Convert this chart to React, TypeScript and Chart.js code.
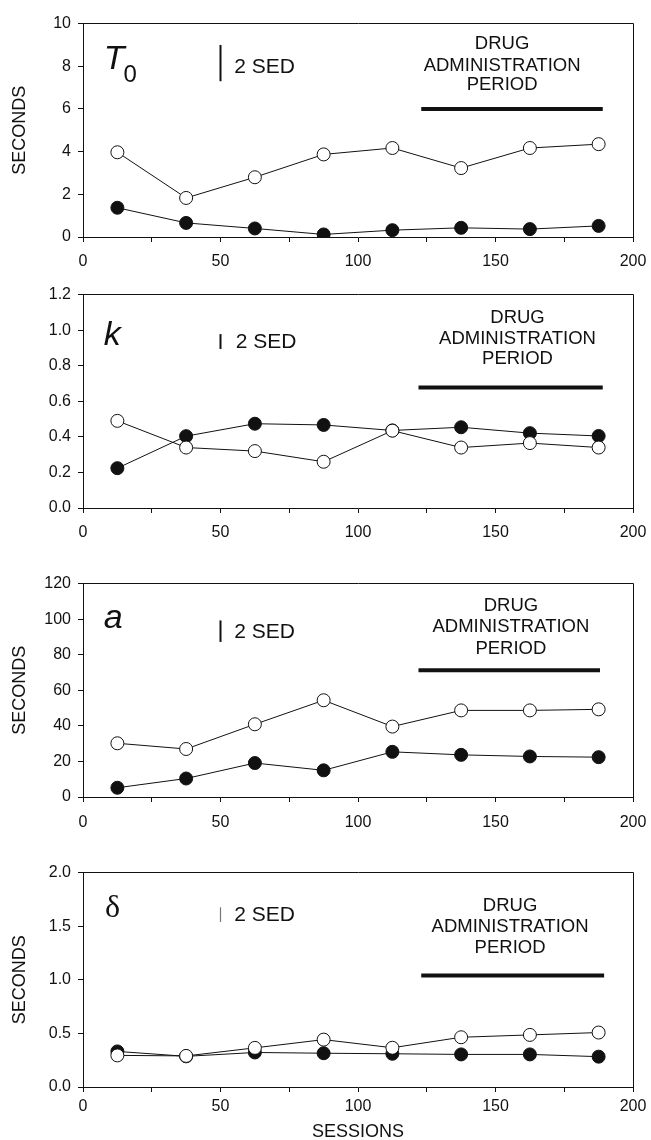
import React, { useEffect, useRef } from "react";
import { Chart, registerables } from "chart.js";

Chart.register(...registerables);

// ---- data ----
const sessions = [12.5, 37.5, 62.5, 87.5, 112.5, 137.5, 162.5, 187.5];

const t0Open = [3.97, 1.83, 2.8, 3.87, 4.17, 3.23, 4.17, 4.35];
const t0Filled = [1.37, 0.66, 0.4, 0.12, 0.32, 0.43, 0.37, 0.52];

const kOpen = [0.49, 0.34, 0.32, 0.26, 0.435, 0.34, 0.365, 0.34];
const kFilled = [0.224, 0.404, 0.474, 0.467, 0.436, 0.454, 0.421, 0.405];

const aOpen = [30.2, 27.0, 40.9, 54.4, 39.6, 48.7, 48.7, 49.3];
const aFilled = [5.2, 10.4, 19.1, 15.0, 25.4, 23.7, 22.8, 22.4];

const dOpen = [0.295, 0.29, 0.365, 0.442, 0.366, 0.464, 0.486, 0.508];
const dFilled = [0.332, 0.286, 0.322, 0.315, 0.31, 0.304, 0.304, 0.283];

const openSeries = [t0Open, kOpen, aOpen, dOpen];
const filledSeries = [t0Filled, kFilled, aFilled, dFilled];

// axes
const xTicksMin = 0;
const xTicksMax = 200;
const xMinorStep = 25;
const xLabelStep = 50;
const yMaxes = [10, 1.2, 120, 2.0];
const ySteps = [2, 0.2, 20, 0.5];
const yDecimals = [0, 1, 0, 1];
const yTitles = ["SECONDS", "", "SECONDS", "SECONDS"];
const xTitles = ["", "", "", "SESSIONS"];

// annotations (data units)
const panelLabels = ["T", "k", "a", "\u03b4"];
const panelSub = ["0", "", "", ""];
const panelLabelX = [7.5, 7.5, 7.5, 8];
const panelLabelBaseY = [7.88, 0.915, 95, 1.585];
const panelSubBaseY = [7.27, 0, 0, 0];

const sedX = 50;
const sedRanges = [
  [7.3, 9.0],
  [0.894, 0.978],
  [87.2, 99.3],
  [1.539, 1.677],
];
const sedLabel = "2 SED";
const sedLabelX = [55, 55.5, 55, 55];
const sedLabelY = [7.96, 0.935, 92.8, 1.6];

const drugLines = ["DRUG", "ADMINISTRATION", "PERIOD"];
const drugTextX = [152.4, 158, 155.6, 155.3];
const drugTextY = [
  [9.04, 8.04, 7.12],
  [1.071, 0.95, 0.836],
  [107.6, 95.6, 83.5],
  [1.693, 1.493, 1.3],
];
const drugBarY = [6.0, 0.678, 71.3, 1.04];
const drugBarX = [
  [123, 189],
  [122, 189],
  [122, 188],
  [123, 189.5],
];

// ---- layout ----
const W = 651;
const PAD_TOP = 14;
const PLOT_LEFT = 83;
const PLOT_RIGHT_PAD = 18;
const plotTops = [21, 292, 581, 870];
const plotHeights = [216, 216, 216, 217];
const xAxisHeights = [40, 40, 40, 60];
const xTickPads = [10, 10, 11, 5];

const SANS = "'Liberation Sans', Arial, Helvetica, sans-serif";
const SERIF = "'Liberation Serif', 'Times New Roman', serif";
const INK = "#111";

function align(p: number) {
  return Math.round(p - 0.5) + 0.5;
}

function makePlugin(i: number) {
  return {
    id: "annot" + i,
    afterDraw(chart: any) {
      const ctx = chart.ctx as CanvasRenderingContext2D;
      const { left, right, top, bottom } = chart.chartArea;
      const xs = chart.scales.x;
      const ys = chart.scales.y;
      ctx.save();
      // frame (top & right)
      ctx.strokeStyle = INK;
      ctx.lineWidth = 1;
      ctx.beginPath();
      ctx.moveTo(align(left), align(top));
      ctx.lineTo(align(right), align(top));
      ctx.lineTo(align(right), align(bottom));
      ctx.stroke();

      // panel label
      ctx.fillStyle = INK;
      ctx.textBaseline = "alphabetic";
      ctx.textAlign = "left";
      const lx = xs.getPixelForValue(panelLabelX[i]);
      const ly = ys.getPixelForValue(panelLabelBaseY[i]);
      if (i === 3) {
        ctx.font = `32px ${SERIF}`;
      } else {
        ctx.font = `italic 34px ${SANS}`;
      }
      ctx.fillText(panelLabels[i], lx, ly);
      if (panelSub[i]) {
        const w = ctx.measureText(panelLabels[i]).width;
        ctx.font = `24px ${SANS}`;
        ctx.fillText(panelSub[i], lx + w - 1, ys.getPixelForValue(panelSubBaseY[i]));
      }

      // SED bar
      const sx = xs.getPixelForValue(sedX);
      ctx.beginPath();
      ctx.lineWidth = i === 3 ? 1.2 : 2;
      ctx.strokeStyle = i === 3 ? "#777" : INK;
      ctx.moveTo(sx, ys.getPixelForValue(sedRanges[i][0]));
      ctx.lineTo(sx, ys.getPixelForValue(sedRanges[i][1]));
      ctx.stroke();
      ctx.font = `21px ${SANS}`;
      ctx.textBaseline = "middle";
      ctx.fillText(sedLabel, xs.getPixelForValue(sedLabelX[i]), ys.getPixelForValue(sedLabelY[i]));

      // drug text
      ctx.font = `18.5px ${SANS}`;
      ctx.textAlign = "center";
      const dx = xs.getPixelForValue(drugTextX[i]);
      drugLines.forEach((t, j) => {
        ctx.fillText(t, dx, ys.getPixelForValue(drugTextY[i][j]));
      });

      // drug bar
      ctx.beginPath();
      ctx.strokeStyle = INK;
      ctx.lineWidth = 4;
      ctx.lineCap = "butt";
      const by = ys.getPixelForValue(drugBarY[i]);
      ctx.moveTo(xs.getPixelForValue(drugBarX[i][0]), by);
      ctx.lineTo(xs.getPixelForValue(drugBarX[i][1]), by);
      ctx.stroke();
      ctx.restore();
    },
  };
}

function makeConfig(i: number): any {
  const pts = (vals: number[]) => sessions.map((s, j) => ({ x: s, y: vals[j] }));
  const xH = xAxisHeights[i];
  const common = {
    borderColor: INK,
    borderWidth: 1,
    pointRadius: 6.5,
    pointHoverRadius: 6.5,
    pointBorderWidth: 1,
    pointBorderColor: INK,
    fill: false,
    tension: 0,
  };
  return {
    type: "line",
    data: {
      datasets: [
        { ...common, data: pts(openSeries[i]), pointBackgroundColor: "#fff" },
        { ...common, data: pts(filledSeries[i]), pointBackgroundColor: INK },
      ],
    },
    options: {
      responsive: false,
      maintainAspectRatio: false,
      animation: false,
      events: [],
      layout: { padding: { top: PAD_TOP, right: 0, left: 0, bottom: 0 } },
      plugins: { legend: { display: false }, tooltip: { enabled: false } },
      scales: {
        x: {
          type: "linear",
          min: xTicksMin,
          max: xTicksMax,
          afterFit: (s: any) => {
            s.height = xH;
            s.paddingRight = PLOT_RIGHT_PAD;
            s.paddingLeft = 0;
          },
          border: { display: true, color: INK, width: 1 },
          grid: { display: true, drawOnChartArea: false, drawTicks: true, tickLength: 5, color: INK },
          ticks: {
            stepSize: xMinorStep,
            autoSkip: false,
            maxRotation: 0,
            padding: xTickPads[i],
            color: INK,
            font: { family: SANS, size: 16 },
            callback: (v: number) => (v % xLabelStep === 0 ? String(v) : ""),
          },
          title: {
            display: !!xTitles[i],
            text: xTitles[i],
            color: INK,
            font: { family: SANS, size: 18 },
            padding: { top: 0, bottom: 4 },
          },
        },
        y: {
          type: "linear",
          min: 0,
          max: yMaxes[i],
          afterFit: (s: any) => {
            s.width = PLOT_LEFT;
          },
          border: { display: true, color: INK, width: 1 },
          grid: { display: true, drawOnChartArea: false, drawTicks: true, tickLength: 5, color: INK },
          ticks: {
            stepSize: ySteps[i],
            padding: 7,
            color: INK,
            font: { family: SANS, size: 16 },
            callback: (v: number) => Number(v).toFixed(yDecimals[i]),
          },
          title: {
            display: !!yTitles[i],
            text: yTitles[i],
            color: INK,
            font: { family: SANS, size: 18 },
            padding: { top: 9, bottom: 0 },
          },
        },
      },
    },
    plugins: [makePlugin(i)],
  };
}

function Panel({ i }: { i: number }) {
  const ref = useRef<HTMLCanvasElement>(null);
  const h = PAD_TOP + plotHeights[i] + xAxisHeights[i];
  useEffect(() => {
    const chart = new Chart(ref.current as HTMLCanvasElement, makeConfig(i));
    return () => chart.destroy();
  }, [i]);
  return (
    <canvas
      ref={ref}
      width={W}
      height={h}
      style={{
        position: "absolute",
        left: 0,
        top: plotTops[i] - PAD_TOP,
        width: W,
        height: h,
        display: "block",
      }}
    />
  );
}

export default function App() {
  return (
    <div
      style={{
        position: "absolute",
        left: 0,
        top: 0,
        width: W,
        height: 1140,
        overflow: "hidden",
        background: "#fff",
      }}
    >
      {[0, 1, 2, 3].map((i) => (
        <Panel key={i} i={i} />
      ))}
    </div>
  );
}
